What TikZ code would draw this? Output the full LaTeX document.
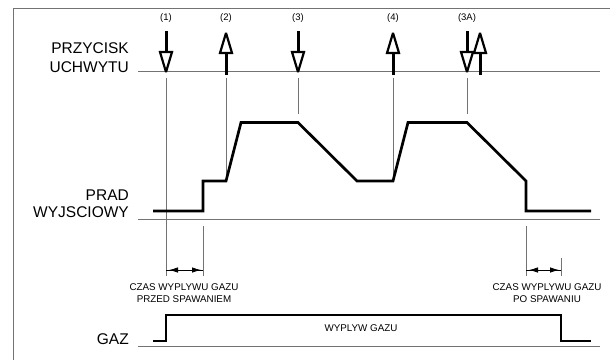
\documentclass[tikz,border=0pt]{standalone}
\usepackage{fontspec}
\setmainfont{Liberation Sans}
\usetikzlibrary{arrows.meta}
\begin{document}
\begin{tikzpicture}[x=1pt,y=-1pt,
  wave/.style={line width=2.7pt, line join=miter},
  rule/.style={draw=black!55, line width=0.9pt},
  guide/.style={draw=black!55, line width=0.7pt},
  biglbl/.style={font=\fontsize{15.5}{17}\selectfont, anchor=east, inner sep=0pt},
  numlbl/.style={font=\fontsize{9.5}{10}\selectfont, inner sep=0pt},
  note/.style={font=\fontsize{9.8}{12}\selectfont, align=center, inner sep=0pt},
  shaft/.style={line width=3pt},
  ahead/.style={line width=2.2pt, fill=white, line join=miter, miter limit=3},
  dimarrow/.style={line width=0.8pt, {Latex[length=9pt,width=5.5pt]}-{Latex[length=9pt,width=5.5pt]}, shorten <=3pt, shorten >=2pt},
  pics/btndown/.style={code={
    \draw[shaft] (0,31) -- (0,52);
    \draw[ahead] (-6,52) -- (6,52) -- (0,72) -- cycle;}},
  pics/btnup/.style={code={
    \draw[shaft] (0,53) -- (0,75);
    \draw[ahead] (-6,53) -- (6,53) -- (0,33) -- cycle;}}
]
\useasboundingbox (0,0) rectangle (610,360);

% frame
\coordinate (fb) at (13,360);
\coordinate (fc) at (13,8);
\coordinate (fr) at (610,8);
\draw[rule] (fb) -- (fc) -- (fr);

% row labels
\node[biglbl] (przy) at (129,48) {PRZYCISK};
\node[biglbl] (uchw) at (129,67) {UCHWYTU};
\node[biglbl] (prad) at (129,195) {PRAD};
\node[biglbl] (wyjs) at (129,212) {WYJSCIOWY};
\node[biglbl] (gaz) at (129,339) {GAZ};

% baselines
\coordinate (b1s) at (138,71);  \coordinate (b1e) at (600,71);
\coordinate (b2s) at (138,219); \coordinate (b2e) at (600,219);
\coordinate (b3s) at (138,346); \coordinate (b3e) at (600,346);
\draw[rule] (b1s) -- (b1e);
\draw[rule] (b2s) -- (b2e);
\draw[rule] (b3s) -- (b3e);

% event labels
\node[numlbl] (n1) at (166,18) {(1)};
\node[numlbl] (n2) at (226,18) {(2)};
\node[numlbl] (n3) at (298,18) {(3)};
\node[numlbl] (n4) at (393,18) {(4)};
\node[numlbl] (n3a) at (467,18) {(3A)};

% trigger arrows
\pic at (166,0) {btndown};
\pic at (226,0) {btnup};
\pic at (298,0) {btndown};
\pic at (393,0) {btnup};
\pic at (467,0) {btndown};
\pic at (480,0) {btnup};

% guide lines
\coordinate (g1a) at (166,78); \coordinate (g1b) at (166,276);
\coordinate (g2a) at (226,78); \coordinate (g2b) at (226,181);
\coordinate (g3a) at (298,78); \coordinate (g3b) at (298,114);
\coordinate (g4a) at (393,78); \coordinate (g4b) at (393,181);
\coordinate (g5a) at (467,78); \coordinate (g5b) at (467,114);
\coordinate (g6a) at (203,226); \coordinate (g6b) at (203,276);
\coordinate (g7a) at (526,226); \coordinate (g7b) at (526,276);
\coordinate (g8a) at (561,258); \coordinate (g8b) at (561,276);
\foreach \g in {1,...,8} \draw[guide] (g\g a) -- (g\g b);

% output current waveform
\draw[wave] (153,211) -- (203,211) -- (203,181) -- (226,181) -- (241,122.5)
  -- (298,122.5) -- (357,181) -- (393,181) -- (408,122.5) -- (467,122.5)
  -- (526,181) -- (526,211) -- (591,211);

% gas waveform
\draw[wave] (153,341) -- (166,341) -- (166,315) -- (561,315) -- (561,341) -- (591,341);
\node[note] (flow) at (361,328) {WYPLYW GAZU};

% time spans
\coordinate (d1a) at (166,270); \coordinate (d1b) at (203,270);
\coordinate (d2a) at (526,270); \coordinate (d2b) at (561,270);
\draw[line width=0.8pt] (d1a) -- (d1b);
\draw[line width=0.8pt] (d2a) -- (d2b);
\draw[dimarrow] (d1a) -- (d1b);
\draw[dimarrow] (d2a) -- (d2b);
\node[note] (pre) at (184,293) {CZAS WYPLYWU GAZU\\PRZED SPAWANIEM};
\node[note] (post) at (547,293) {CZAS WYPLYWU GAZU\\PO SPAWANIU};
\end{tikzpicture}
\end{document}
